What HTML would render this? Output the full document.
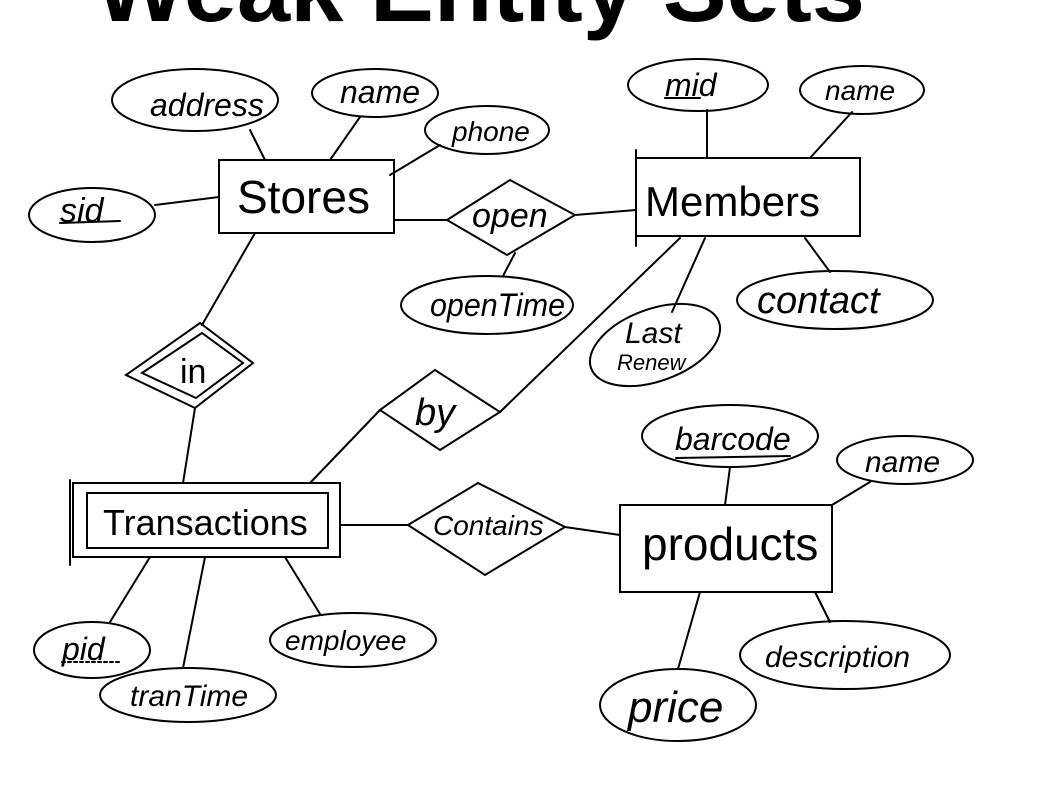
<!DOCTYPE html>
<html><head><meta charset="utf-8"><style>
html,body{margin:0;padding:0;background:#fff;width:1044px;height:785px;overflow:hidden}
svg{display:block}
text{font-family:"Liberation Sans",sans-serif;fill:#000}
</style></head><body>
<svg width="1044" height="785" viewBox="0 0 1044 785" xmlns="http://www.w3.org/2000/svg">
<text x="95" y="21" font-size="95" font-weight="bold" textLength="770" lengthAdjust="spacingAndGlyphs">Weak Entity Sets</text>
<g fill="none" stroke="#000" stroke-width="2" stroke-linecap="round">
<ellipse cx="195" cy="100" rx="83" ry="31"/>
<ellipse cx="375" cy="93" rx="63" ry="24"/>
<ellipse cx="487" cy="130" rx="62" ry="24"/>
<ellipse cx="92" cy="215" rx="63" ry="27"/>
<ellipse cx="698" cy="85" rx="70" ry="26"/>
<ellipse cx="862" cy="90" rx="62" ry="24"/>
<ellipse cx="487" cy="305" rx="86" ry="29"/>
<ellipse cx="835" cy="300" rx="98" ry="29"/>
<ellipse cx="655" cy="345" rx="68" ry="36" transform="rotate(-20 655 345)"/>
<ellipse cx="730" cy="436" rx="88" ry="31"/>
<ellipse cx="905" cy="460" rx="68" ry="24"/>
<ellipse cx="845" cy="655" rx="105" ry="34"/>
<ellipse cx="678" cy="705" rx="78" ry="36"/>
<ellipse cx="92" cy="650" rx="58" ry="28"/>
<ellipse cx="188" cy="695" rx="88" ry="27"/>
<ellipse cx="353" cy="640" rx="83" ry="27"/>
<rect x="219" y="160" width="175" height="73"/>
<rect x="636" y="158" width="224" height="78"/>
<line x1="636" y1="150" x2="636" y2="246"/>
<rect x="73" y="483" width="267" height="74"/>
<rect x="87" y="493" width="241" height="55"/>
<line x1="70" y1="480" x2="70" y2="565"/>
<rect x="620" y="505" width="212" height="87"/>
<polygon points="447,220 510,180 575,215 507,255"/>
<polygon points="126,375 200,323 253,363 195,408"/>
<polygon points="142,373 202,333 243,363 196,398"/>
<polygon points="380,410 435,370 500,412 440,450"/>
<polygon points="408,525 478,483 565,527 485,575"/>
<line x1="250" y1="130" x2="265" y2="160"/>
<line x1="360" y1="117" x2="330" y2="160"/>
<line x1="440" y1="145" x2="390" y2="175"/>
<line x1="155" y1="205" x2="219" y2="197"/>
<line x1="394" y1="220" x2="447" y2="220"/>
<line x1="575" y1="215" x2="636" y2="210"/>
<line x1="515" y1="253" x2="503" y2="276"/>
<line x1="707" y1="110" x2="707" y2="158"/>
<line x1="852" y1="112" x2="810" y2="158"/>
<line x1="805" y1="238" x2="830" y2="272"/>
<line x1="705" y1="238" x2="672" y2="312"/>
<line x1="680" y1="238" x2="500" y2="412"/>
<line x1="255" y1="233" x2="202" y2="325"/>
<line x1="195" y1="408" x2="183" y2="483"/>
<line x1="380" y1="410" x2="310" y2="483"/>
<line x1="340" y1="525" x2="408" y2="525"/>
<line x1="565" y1="527" x2="620" y2="535"/>
<line x1="730" y1="467" x2="725" y2="505"/>
<line x1="870" y1="482" x2="832" y2="505"/>
<line x1="815" y1="592" x2="830" y2="622"/>
<line x1="700" y1="592" x2="678" y2="669"/>
<line x1="150" y1="557" x2="110" y2="622"/>
<line x1="205" y1="557" x2="183" y2="668"/>
<line x1="285" y1="557" x2="320" y2="614"/>
<line x1="676" y1="458" x2="790" y2="456"/>
<line x1="60" y1="223" x2="120" y2="221"/>
<line x1="665" y1="98" x2="700" y2="98"/>
<line x1="62" y1="662" x2="120" y2="662" stroke-dasharray="3,3"/>
</g>
<g>
<text x="150" y="116" font-size="32" font-style="italic">address</text>
<text x="340" y="103" font-size="32" font-style="italic">name</text>
<text x="452" y="141" font-size="28" font-style="italic">phone</text>
<text x="60" y="222" font-size="34" font-style="italic">sid</text>
<text x="237" y="213" font-size="46">Stores</text>
<text x="472" y="227" font-size="34" font-style="italic">open</text>
<text x="645" y="216" font-size="42">Members</text>
<text x="665" y="96" font-size="32" font-style="italic">mid</text>
<text x="825" y="100" font-size="28" font-style="italic">name</text>
<text x="430" y="316" font-size="32" font-style="italic" textLength="135" lengthAdjust="spacingAndGlyphs">openTime</text>
<text x="757" y="313" font-size="38" font-style="italic">contact</text>
<text x="625" y="343" font-size="30" font-style="italic">Last</text>
<text x="617" y="370" font-size="22" font-style="italic">Renew</text>
<text x="180" y="383" font-size="34">in</text>
<text x="415" y="425" font-size="38" font-style="italic">by</text>
<text x="103" y="535" font-size="36">Transactions</text>
<text x="433" y="535" font-size="28" font-style="italic">Contains</text>
<text x="642" y="560" font-size="46">products</text>
<text x="675" y="450" font-size="32" font-style="italic">barcode</text>
<text x="865" y="472" font-size="30" font-style="italic">name</text>
<text x="765" y="667" font-size="30" font-style="italic">description</text>
<text x="628" y="722" font-size="44" font-style="italic">price</text>
<text x="62" y="660" font-size="32" font-style="italic">pid</text>
<text x="130" y="706" font-size="30" font-style="italic">tranTime</text>
<text x="285" y="650" font-size="28" font-style="italic">employee</text>
</g>
</svg>
</body></html>
